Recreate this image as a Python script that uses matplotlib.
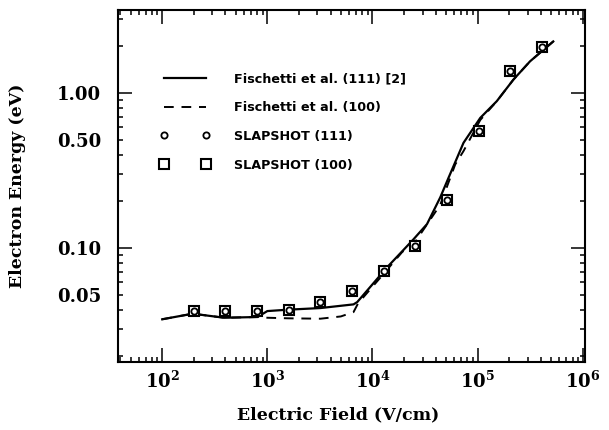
import numpy as np
import matplotlib
matplotlib.use("Agg")
import matplotlib.pyplot as plt
from matplotlib.ticker import LogLocator, FixedLocator, FuncFormatter, NullFormatter
from matplotlib.lines import Line2D

# ---- data ----
fis111_x = [100, 195, 390, 807, 1000, 1550, 3200, 6600, 7160, 13800, 24600, 33000,
            44100, 52900, 73400, 106000, 152000, 219000, 315000, 524000]
fis111_y = [0.0347, 0.0377, 0.0355, 0.0359, 0.0392, 0.0400, 0.0410, 0.0433, 0.0448, 0.0752,
            0.114, 0.1426, 0.212, 0.284, 0.477, 0.691, 0.885, 1.22, 1.60, 2.15]

fis100_x = [100, 195, 390, 807, 1000, 1600, 3200, 5000, 6600, 7300, 11900, 19100, 25600,
            44100, 61200, 73400, 106000, 152000, 219000, 315000, 524000]
fis100_y = [0.0347, 0.0377, 0.0355, 0.0359, 0.0355, 0.0352, 0.0350, 0.0362, 0.0386, 0.0440,
            0.0645, 0.094, 0.110, 0.19, 0.346, 0.422, 0.67, 0.885, 1.22, 1.60, 2.15]

slap_x = [200, 400, 800, 1600, 3200, 6400, 12800, 25600, 51200, 102400, 204800, 409600]
slap111_y = [0.039, 0.039, 0.0395, 0.040, 0.0448, 0.0532, 0.0709, 0.1036, 0.203, 0.568, 1.38, 1.97]
slap100_y = [0.039, 0.039, 0.0395, 0.040, 0.0448, 0.0532, 0.0709, 0.1036, 0.203, 0.568, 1.38, 1.97]

labels = ["Fischetti et al. (111) [2]", "Fischetti et al. (100)",
          "SLAPSHOT (111)", "SLAPSHOT (100)"]
xlabel = "Electric Field (V/cm)"
ylabel = "Electron Energy (eV)"
ytick_labels = {0.05: "0.05", 0.1: "0.10", 0.5: "0.50", 1.0: "1.00"}

plt.rcParams['mathtext.fontset'] = 'dejavuserif'

fig = plt.figure(figsize=(6.09, 4.30), dpi=100)
ax = fig.add_axes([118/609, 1-362/430, (585-118)/609, (362-10)/430])

ax.plot(fis111_x, fis111_y, '-', color='black', lw=1.6, label=labels[0])
ax.plot(fis100_x, fis100_y, '--', color='black', lw=1.4, dashes=(5, 4), label=labels[1])
ax.plot(slap_x, slap100_y, 's', ms=7, mfc='white', mec='black', mew=1.5, zorder=4, label='_sq')
ax.plot(slap_x, slap111_y, 'o', ms=4.5, mfc='white', mec='black', mew=1.3, zorder=5, label='_ci')

ax.set_xscale('log')
ax.set_yscale('log')
ax.set_xlim(38, 1.05e6)
ax.set_ylim(0.0184, 3.43)

ax.xaxis.set_major_locator(FixedLocator([1e2, 1e3, 1e4, 1e5, 1e6]))
ax.xaxis.set_minor_locator(LogLocator(base=10, subs=np.arange(2, 10)))
ax.xaxis.set_major_formatter(FuncFormatter(lambda v, p: r'$\mathbf{10^{%d}}$' % round(np.log10(v))))
ax.xaxis.set_minor_formatter(NullFormatter())

ax.yaxis.set_major_locator(FixedLocator([0.1, 1.0]))
ax.yaxis.set_minor_locator(LogLocator(base=10, subs=np.arange(2, 10)))
def yfmt(v, p):
    for k, s in ytick_labels.items():
        if abs(v - k) / k < 1e-6:
            return s
    return ''
ax.yaxis.set_major_formatter(FuncFormatter(yfmt))
ax.yaxis.set_minor_formatter(FuncFormatter(yfmt))

ax.tick_params(which='both', direction='in', top=True, right=True, width=1.1)
ax.tick_params(which='major', length=10)
ax.tick_params(which='minor', length=3.5)
ax.tick_params(axis='x', which='major', pad=6, labelsize=13)
ax.tick_params(axis='y', which='both', pad=12, labelsize=13)
for t in ax.get_yticklabels(which='both'):
    t.set_fontfamily('DejaVu Serif')
    t.set_fontweight('bold')

for s in ax.spines.values():
    s.set_linewidth(1.5)

ax.set_xlabel(xlabel, fontfamily='DejaVu Serif', fontweight='bold', fontsize=12.5)
ax.xaxis.set_label_coords(0.471, -0.125)
ax.set_ylabel(ylabel, fontfamily='DejaVu Serif', fontweight='bold', fontsize=12.5)
ax.yaxis.set_label_coords(-0.198, 0.5)

handles = [
    Line2D([], [], ls='-', color='black', lw=1.6),
    Line2D([], [], ls='--', color='black', lw=1.4, dashes=(5, 4)),
    Line2D([], [], ls='none', marker='o', ms=4.5, mfc='white', mec='black', mew=1.3),
    Line2D([], [], ls='none', marker='s', ms=7, mfc='white', mec='black', mew=1.5),
]
leg = ax.legend(handles, labels, loc='upper left', bbox_to_anchor=((160-118)/467, (362-72)/352),
                frameon=False, borderpad=0, borderaxespad=0, numpoints=2,
                handlelength=3.9, handletextpad=1.9, labelspacing=1.25,
                prop={'family': 'DejaVu Sans', 'weight': 'bold', 'size': 9.2})

fig.savefig('out.png', dpi=100)
